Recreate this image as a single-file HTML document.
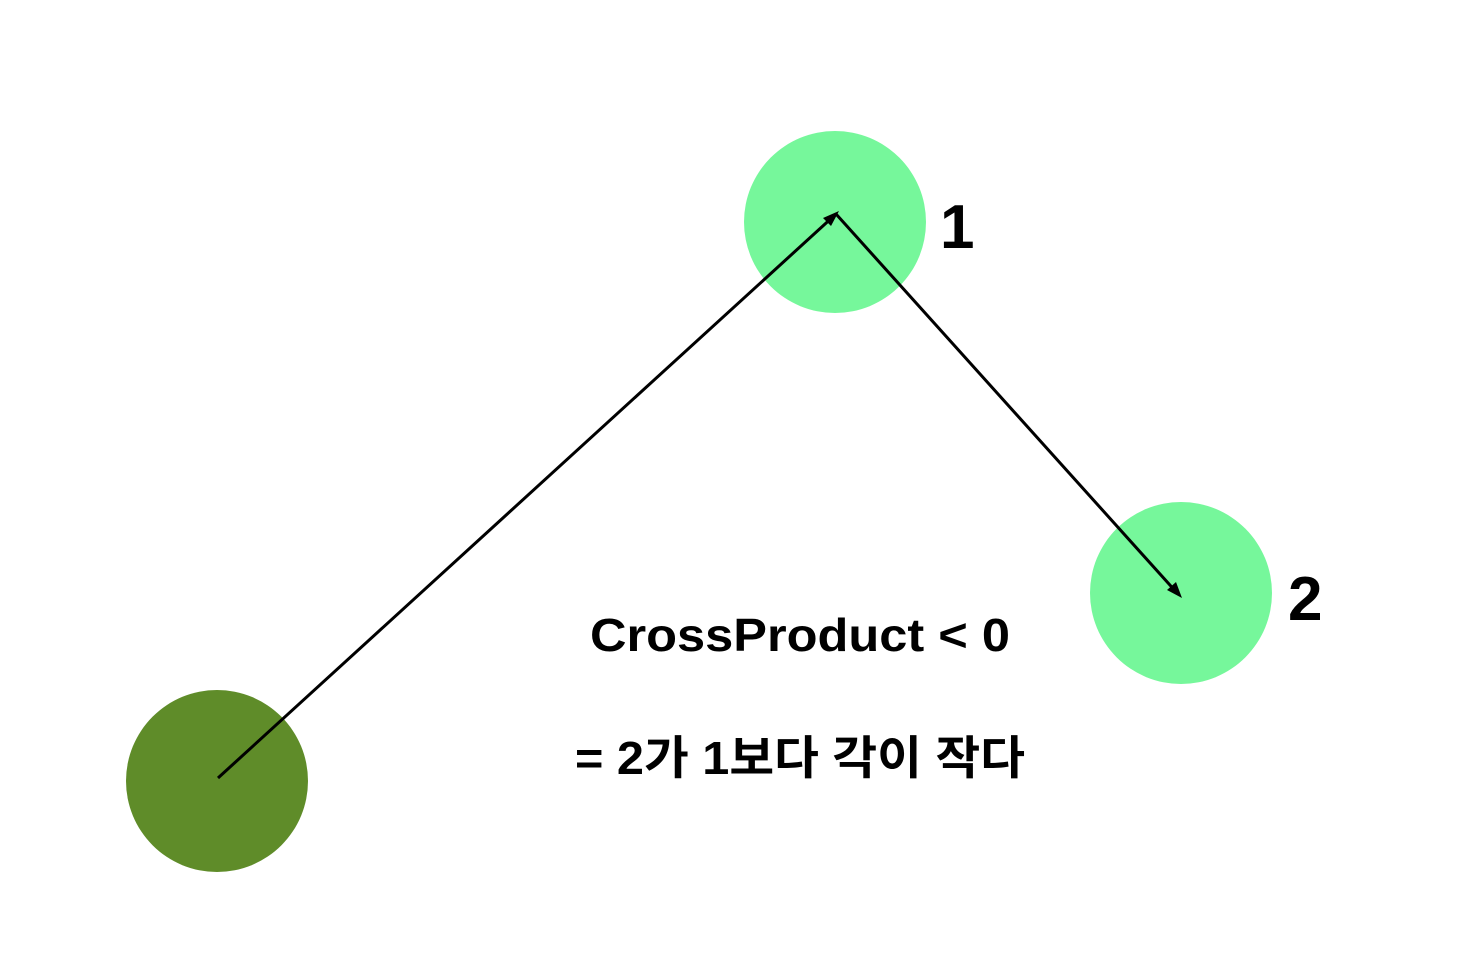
<!DOCTYPE html>
<html><head><meta charset="utf-8"><style>
html,body{margin:0;padding:0;background:#fff;}
svg{display:block;}
text{font-family:"Liberation Sans","Noto Sans CJK KR",sans-serif;font-weight:bold;fill:#000;}
</style></head><body>
<svg width="1470" height="962" viewBox="0 0 1470 962">
<circle cx="835" cy="222" r="91" fill="#76f79b"/>
<circle cx="1181" cy="593" r="91" fill="#76f79b"/>
<circle cx="217" cy="781" r="91" fill="#5f8c29"/>
<line x1="218" y1="778" x2="836" y2="214" stroke="#000" stroke-width="3"/>
<polygon points="839,211 823,218 831,226" fill="#000"/>
<line x1="836" y1="214" x2="1178" y2="594" stroke="#000" stroke-width="3"/>
<polygon points="1182,598 1176,582 1167,590" fill="#000"/>
<text x="940" y="248" font-size="62">1</text>
<text x="1288" y="620" font-size="62">2</text>
<text x="590" y="651" font-size="46" textLength="420" lengthAdjust="spacingAndGlyphs">CrossProduct &lt; 0</text>
<text x="575" y="774" font-size="46" textLength="450" lengthAdjust="spacingAndGlyphs">= 2가 1보다 각이 작다</text>
</svg>
</body></html>
